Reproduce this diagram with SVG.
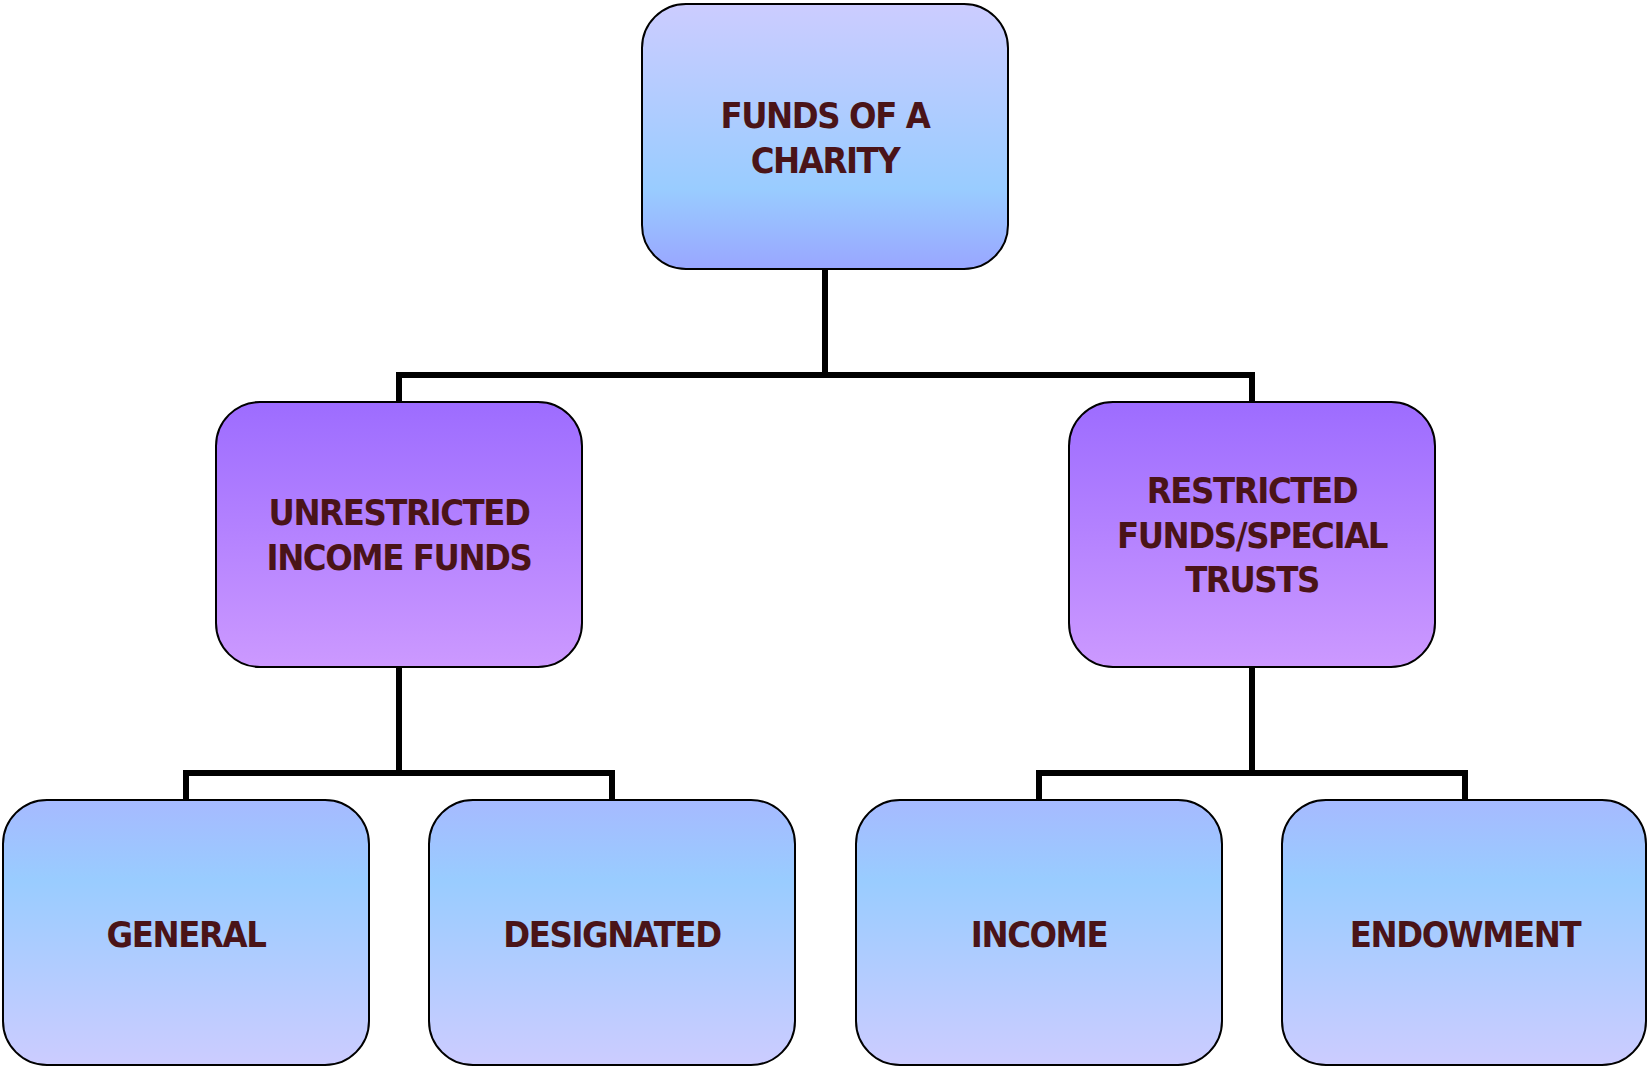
<svg xmlns="http://www.w3.org/2000/svg" width="1648" height="1069" viewBox="0 0 1648 1069">
  <defs>
    <linearGradient id="gTop" x1="0" y1="0" x2="0" y2="1">
      <stop offset="0" stop-color="#CCCCFF"/>
      <stop offset="0.7" stop-color="#99CCFF"/>
      <stop offset="1" stop-color="#99A6FF"/>
    </linearGradient>
    <linearGradient id="gMid" x1="0" y1="0" x2="0" y2="1">
      <stop offset="0" stop-color="#9D6CFF"/>
      <stop offset="1" stop-color="#CC99FF"/>
    </linearGradient>
    <linearGradient id="gLeaf" x1="0" y1="0" x2="0" y2="1">
      <stop offset="0" stop-color="#A6BAFF"/>
      <stop offset="0.3" stop-color="#99CCFF"/>
      <stop offset="1" stop-color="#CCCCFF"/>
    </linearGradient>
  </defs>
  <style>
    .box { stroke: #000; stroke-width: 2; }
    .lbl { font-family: "DejaVu Sans Condensed", "DejaVu Sans", sans-serif; font-stretch: condensed; font-weight: bold; font-size: 36px; letter-spacing: -1.4px; fill: #4A1418; text-anchor: middle; }
    .conn { fill: none; stroke: #000; stroke-width: 6; }
  </style>
  <rect width="1648" height="1069" fill="#FFFFFF"/>
  <g id="connectors">
    <path class="conn" d="M825 269 V375 M399 402 V375 H1252 V402"/>
    <path class="conn" d="M399 667 V773 M186 799 V773 H612 V799"/>
    <path class="conn" d="M1252 667 V773 M1039 799 V773 H1465 V799"/>
  </g>
  <g id="node-funds">
    <rect class="box" x="642" y="4" width="366" height="265" rx="44" ry="44" fill="url(#gTop)"/>
    <text class="lbl" x="825" y="128">FUNDS OF A</text>
    <text class="lbl" x="825" y="173">CHARITY</text>
  </g>
  <g id="node-unrestricted">
    <rect class="box" x="216" y="402" width="366" height="265" rx="44" ry="44" fill="url(#gMid)"/>
    <text class="lbl" x="399" y="525">UNRESTRICTED</text>
    <text class="lbl" x="399" y="570">INCOME FUNDS</text>
  </g>
  <g id="node-restricted">
    <rect class="box" x="1069" y="402" width="366" height="265" rx="44" ry="44" fill="url(#gMid)"/>
    <text class="lbl" x="1252" y="503">RESTRICTED</text>
    <text class="lbl" x="1252" y="548">FUNDS/SPECIAL</text>
    <text class="lbl" x="1252" y="592">TRUSTS</text>
  </g>
  <g id="node-general">
    <rect class="box" x="3" y="800" width="366" height="265" rx="44" ry="44" fill="url(#gLeaf)"/>
    <text class="lbl" x="186" y="947">GENERAL</text>
  </g>
  <g id="node-designated">
    <rect class="box" x="429" y="800" width="366" height="265" rx="44" ry="44" fill="url(#gLeaf)"/>
    <text class="lbl" x="612" y="947">DESIGNATED</text>
  </g>
  <g id="node-income">
    <rect class="box" x="856" y="800" width="366" height="265" rx="44" ry="44" fill="url(#gLeaf)"/>
    <text class="lbl" x="1039" y="947">INCOME</text>
  </g>
  <g id="node-endowment">
    <rect class="box" x="1282" y="800" width="364" height="265" rx="44" ry="44" fill="url(#gLeaf)"/>
    <text class="lbl" x="1465" y="947">ENDOWMENT</text>
  </g>
</svg>
